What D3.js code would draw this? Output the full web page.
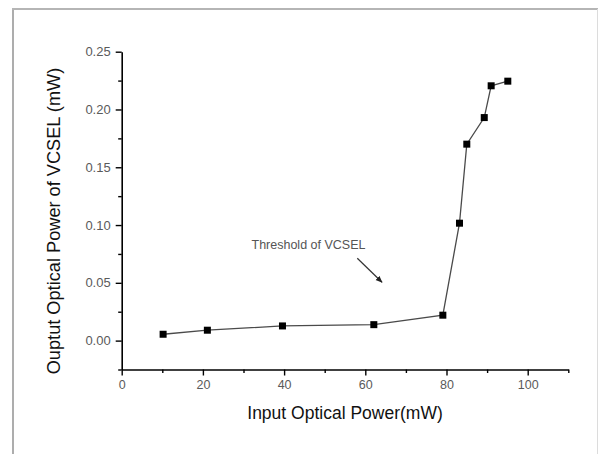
<!DOCTYPE html>
<html>
<head>
<meta charset="utf-8">
<script src="https://cdn.jsdelivr.net/npm/d3@7"></script>
<style>
  html, body { margin: 0; padding: 0; background: #fff; }
  svg { display: block; }
  text { font-family: "Liberation Sans", Arial, sans-serif; }
</style>
</head>
<body>
<svg id="chart" width="598" height="454"></svg>
<script>
const inputPower = [10.2, 21.1, 39.6, 62.1, 79.1, 83.2, 85.0, 89.3, 91.0, 95.1];
const outputPower = [0.0055, 0.009, 0.0127, 0.0138, 0.022, 0.1016, 0.170, 0.193, 0.2205, 0.2245];
const xTicks = [0, 20, 40, 60, 80, 100];
const xMinorTicks = [10, 30, 50, 70, 90, 110];
const yTicks = [0.00, 0.05, 0.10, 0.15, 0.20, 0.25];
const yMinorTicks = [-0.025, 0.025, 0.075, 0.125, 0.175, 0.225];
const xLabel = "Input Optical Power(mW)";
const yLabel = "Ouptut Optical Power of VCSEL (mW)";
const annotation = "Threshold of VCSEL";

const svg = d3.select("#chart");
const plotLeft = 121.7, plotRight = 568.3, plotTop = 51.7, plotBottom = 369.5;

const x = d3.scaleLinear().domain([0, 110]).range([plotLeft, plotRight]);
const y = d3.scaleLinear().domain([-0.025, 0.25]).range([plotBottom, plotTop]);

// outer frame
svg.append("line").attr("x1", 13).attr("x2", 13).attr("y1", 8).attr("y2", 460)
  .attr("stroke", "#adadad").attr("stroke-width", 2);
svg.append("line").attr("x1", 12).attr("x2", 598).attr("y1", 9).attr("y2", 9)
  .attr("stroke", "#b5b5b5").attr("stroke-width", 2);
svg.append("line").attr("x1", 597.5).attr("x2", 597.5).attr("y1", 9).attr("y2", 460)
  .attr("stroke", "#dcdcdc").attr("stroke-width", 1);

// x axis
const xAxis = d3.axisBottom(x).tickValues(xTicks).tickFormat(d3.format("d")).tickSize(6).tickSizeOuter(0);
const gx = svg.append("g").attr("transform", `translate(0,${plotBottom})`).call(xAxis);
gx.select(".domain").attr("stroke", "#000").attr("stroke-width", 1.6);
gx.selectAll(".tick line").attr("stroke", "#000").attr("stroke-width", 1.4);
gx.selectAll(".tick text").attr("fill", "#5a5a5a").attr("font-size", "12.5px")
  .attr("font-family", "Liberation Sans, Arial, sans-serif").attr("dy", "0.9em").attr("y", 8);
const gxm = svg.append("g").attr("transform", `translate(0,${plotBottom})`)
  .call(d3.axisBottom(x).tickValues(xMinorTicks).tickFormat("").tickSize(3.5).tickSizeOuter(0));
gxm.select(".domain").remove();
gxm.selectAll(".tick line").attr("stroke", "#000").attr("stroke-width", 1.4);

// y axis
const yAxis = d3.axisLeft(y).tickValues(yTicks).tickFormat(d3.format(".2f")).tickSize(6).tickSizeOuter(0);
const gy = svg.append("g").attr("transform", `translate(${plotLeft},0)`).call(yAxis);
gy.select(".domain").attr("stroke", "#000").attr("stroke-width", 1.6);
gy.selectAll(".tick line").attr("stroke", "#000").attr("stroke-width", 1.4);
gy.selectAll(".tick text").attr("fill", "#5a5a5a").attr("font-size", "13px")
  .attr("font-family", "Liberation Sans, Arial, sans-serif").attr("x", -11);
const gym = svg.append("g").attr("transform", `translate(${plotLeft},0)`)
  .call(d3.axisLeft(y).tickValues(yMinorTicks).tickFormat("").tickSize(3.5).tickSizeOuter(0));
gym.select(".domain").remove();
gym.selectAll(".tick line").attr("stroke", "#000").attr("stroke-width", 1.4);

// axis labels
svg.append("text").attr("x", (plotLeft + plotRight) / 2).attr("y", 419)
  .attr("text-anchor", "middle").attr("font-size", "17.5px").attr("fill", "#111")
  .text(xLabel);
svg.append("text").attr("transform", "translate(60,221) rotate(-90)")
  .attr("text-anchor", "middle").attr("font-size", "18.2px").attr("fill", "#111")
  .text(yLabel);

// data line and markers
const pts = inputPower.map((v, i) => [v, outputPower[i]]);
svg.append("path").datum(pts)
  .attr("d", d3.line().x(d => x(d[0])).y(d => y(d[1])))
  .attr("fill", "none").attr("stroke", "#4a4a4a").attr("stroke-width", 1.3);
svg.selectAll("rect.pt").data(pts).enter().append("rect").attr("class", "pt")
  .attr("x", d => x(d[0]) - 3.5).attr("y", d => y(d[1]) - 3.5)
  .attr("width", 7).attr("height", 7).attr("fill", "#000");

// annotation
svg.append("text").attr("x", 251.5).attr("y", 249).attr("font-size", "12.5px")
  .attr("fill", "#555").text(annotation);
svg.append("defs").append("marker").attr("id", "arrow")
  .attr("viewBox", "0 0 10 10").attr("refX", 9).attr("refY", 5)
  .attr("markerWidth", 7).attr("markerHeight", 7).attr("orient", "auto")
  .attr("markerUnits", "userSpaceOnUse")
  .append("path").attr("d", "M0,1 L10,5 L0,9 Z").attr("fill", "#222");
svg.append("line").attr("x1", 357.3).attr("y1", 258.3).attr("x2", 382).attr("y2", 282.3)
  .attr("stroke", "#333").attr("stroke-width", 1.2).attr("marker-end", "url(#arrow)");
</script>
</body>
</html>
